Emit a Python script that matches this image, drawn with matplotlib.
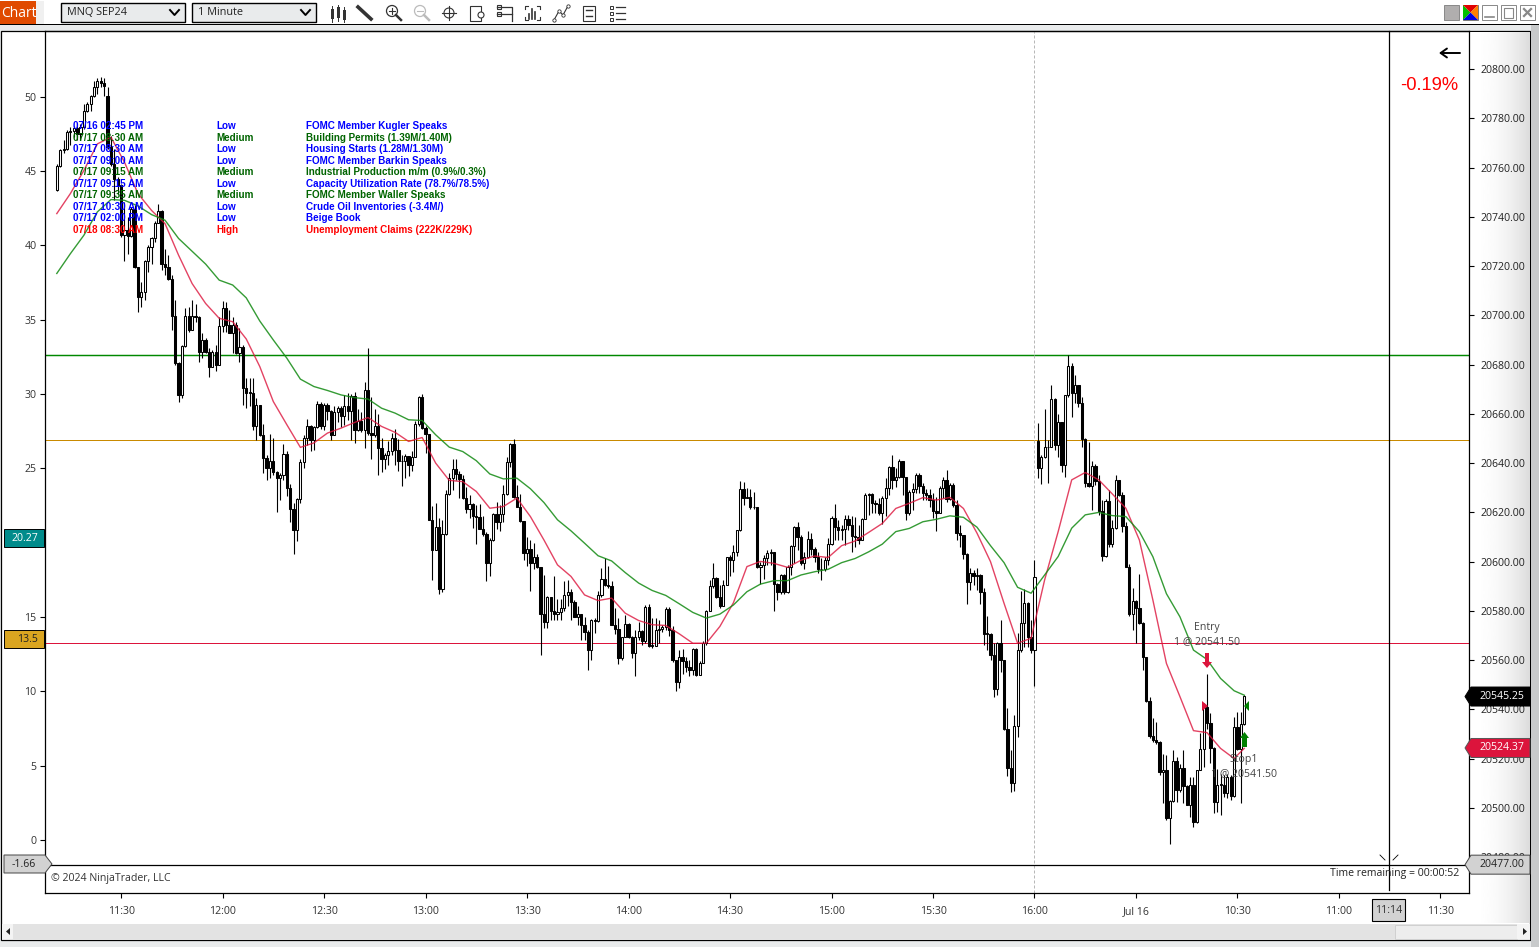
import numpy as np
import matplotlib
matplotlib.use("Agg")
import matplotlib.pyplot as plt
from matplotlib.patches import Rectangle, Polygon, Circle

W, H = 1539, 947
UI = "Open Sans"
ARIAL = "Liberation Sans"

first_open = {0: 20750.7, 15: 20789.0, 290: 20649.1}

closes = [
20760.6,20767.2,20767.5,20774.4,20775,20776,20773.7,20776.4,20783.1,20785.8,
20789.2,20792.6,20795.3,20794.3,20793,20768.3,20761.5,20755.5,20752.8,20732.5,
20734.5,20732.2,20743.3,20719.7,20707.5,20709.3,20722,20727.8,20731.4,20737.6,
20742.2,20721,20719.7,20714.7,20699.8,20680.5,20667.7,20687.7,20699.8,20694,
20699.8,20699.4,20685.3,20690,20685.3,20679.2,20685.3,20679.9,20695.8,20702.8,
20696,20693,20696,20684.6,20687.3,20670.4,20668.4,20668.4,20654.9,20663.7,
20651.5,20642,20638,20641,20636.3,20634,20635.3,20643.7,20630,20621.4,
20613,20625.5,20640.3,20650.2,20655.2,20649.5,20654.6,20664,20655.2,20663.7,
20661,20651.5,20660.6,20662.3,20659,20663.3,20661,20667.3,20653.5,20657,
20653.3,20669.7,20652.2,20651.5,20654.9,20646,20641.7,20643.4,20645,20650.2,
20645.2,20641,20640.9,20642.8,20639.4,20642.5,20656,20666.8,20654.2,20652,
20617,20604.7,20614,20589,20611.3,20627.6,20634,20637.5,20635.5,20633.5,
20625.8,20621.3,20623.5,20618.6,20618,20613.2,20611.3,20599.6,20608.6,20619.4,
20615.9,20619.4,20627.4,20640.6,20647.8,20626.4,20622,20616.7,20603.7,20605,
20599.6,20601.8,20597.8,20578.8,20575.7,20585.6,20579.8,20578.8,20579.4,20581,
20586.5,20587.5,20583.8,20577.7,20578.8,20574.4,20571.6,20564.2,20576.4,20576,
20586.5,20592.9,20590.6,20590,20574.4,20572.7,20560.8,20569.3,20574.8,20569.3,
20562.8,20569.6,20572,20567.6,20581.5,20565.8,20565.8,20572.3,20572.7,20573.3,
20580.8,20572.3,20559.9,20551.3,20561.5,20559.7,20557.4,20556,20564.5,20554,
20558.8,20566.9,20579.8,20590,20593.3,20585.8,20581.8,20590.5,20601.7,20600.6,
20604,20612.8,20629.7,20626,20626.2,20622.3,20622,20597.7,20598.6,20601.3,
20603.6,20604,20590.8,20587.8,20594.6,20587.8,20597.9,20606.3,20614.2,20610.1,
20599.6,20602,20609.4,20605,20601.7,20596.9,20596.9,20600.6,20607,20617.8,
20614.2,20612.8,20613.2,20617.2,20614.9,20610.4,20609.9,20608.8,20617.3,20627,
20627.4,20623.7,20623.4,20619.6,20626,20630,20638.5,20633.1,20634.5,20641,
20634.2,20619.6,20628.4,20629.7,20635.2,20630.7,20627.7,20627,20625,20620.7,
20619.9,20630.1,20633.1,20625.3,20631.1,20623,20611.5,20610.8,20603.3,20591.9,
20595.3,20594.2,20594.6,20587.5,20570.6,20570.6,20562.2,20548.2,20566.9,20560.1,
20532,20516.2,20510.3,20533.3,20564,20575,20583.4,20569.3,20564.2,20593.7,
20637.9,20642.4,20646.4,20646.4,20665.9,20647.4,20656.6,20639.3,20667.7,20679.4,
20668.6,20671.7,20664.6,20649.8,20631.8,20630.9,20638.9,20632.9,20620.7,20602.3,
20624.6,20607.2,20613.6,20633.2,20627.1,20614.5,20598,20578.7,20584.2,20581.1,
20575,20561.1,20543.6,20529.3,20527.6,20526.9,20514.7,20515.4,20495.8,20503,
20519,20507.5,20516.1,20508.9,20501.2,20509.3,20494.4,20515.4,20523.8,20541.1,
20534.6,20524.2,20502.5,20509.3,20509.3,20506.2,20512.7,20504.8,20532.7,20523.8,20534.1,20545.4]

highs = [
20761.5,20767.6,20771,20775.3,20776.4,20776.8,20776.8,20777.7,20785.8,20786.5,
20789.5,20795.3,20796.2,20796.6,20796.2,20792.6,20773,20767.6,20756,20753.4,
20746,20740,20744,20744.7,20719.7,20713.6,20722.4,20728.5,20731.8,20738.2,
20745.3,20742.6,20727,20724.4,20716.3,20706.2,20681.2,20688,20702.8,20703.5,
20706.2,20704.8,20699.8,20692.7,20690.7,20686.9,20686,20688,20699.4,20705.8,
20705.5,20702,20699.4,20697.4,20694.7,20688,20674.4,20674.5,20674.5,20666.4,
20663.7,20656,20643.4,20651.8,20650,20636.7,20636,20647.9,20644.8,20631.7,
20623.9,20625.9,20641.7,20651.5,20657.9,20655.6,20655.2,20665.3,20665,20664.4,
20664.6,20661.4,20663,20663,20663,20667.7,20668.4,20668,20668.7,20662,
20660.6,20672.9,20686.6,20667,20662,20660,20650.2,20644,20648.8,20652.2,
20653.8,20649.8,20643.4,20643.8,20642.8,20645,20657,20667.3,20668,20655,
20652,20622.5,20624,20617.8,20617,20629,20636,20641.6,20641.6,20637,
20635.3,20630.5,20627,20623.7,20623,20623.5,20618.6,20612.2,20609.5,20619.7,
20624.4,20623,20631,20642.4,20648,20649.7,20631,20627.5,20616.3,20610,
20608.8,20607.5,20603,20598,20594.6,20585.9,20585,20594,20584.8,20585,
20592,20592.6,20589,20584.5,20581.8,20578.4,20577.5,20572.3,20576.6,20577,
20587.9,20597.3,20601.4,20598.3,20592.3,20581,20577,20569.6,20578.4,20575.3,
20569.9,20572.3,20575.7,20572.3,20582.5,20582.9,20577,20577,20576.4,20574.4,
20581.4,20581.4,20573.7,20560,20564.2,20564.5,20561.5,20560,20564.9,20564.9,
20559.5,20567.6,20580.4,20592.6,20599.4,20593.6,20590.6,20592.5,20602,20602.7,
20606.7,20612.8,20632.7,20632.4,20630,20629.7,20628.4,20622,20600,20602.7,
20604.7,20605,20603.1,20591.2,20595,20595,20598.6,20606.7,20614.4,20616.2,
20610.8,20604,20612.4,20611.5,20605.8,20604,20601.3,20602,20609.8,20618.5,
20623.6,20616.9,20614.9,20619,20619,20618.5,20618.2,20614.9,20617.6,20627.7,
20628,20627.7,20625,20625.7,20626.6,20633.8,20638.8,20643.3,20637.9,20641.5,
20640.6,20628.8,20629,20632,20635.8,20635.8,20631.8,20629.3,20629.7,20627.7,
20626.4,20630.7,20634.5,20637.2,20631.8,20631.8,20625,20614.9,20611,20603.4,
20597.4,20596.7,20597.4,20594.9,20589.2,20578,20571.2,20566.9,20567.2,20576.4,
20560.1,20540.5,20523.6,20537.8,20571,20588,20588.8,20583.8,20576.4,20600.7,
20656.2,20643.3,20661.9,20649.4,20671.7,20666.3,20660,20656.9,20667.7,20683.9,
20680.8,20675.8,20671.7,20667,20650,20648.7,20641,20639.7,20635,20625,
20625.3,20629,20617,20635,20633.2,20628.4,20616.3,20599,20589.2,20584.5,
20595,20575.7,20560.8,20545,20536.4,20535,20527.3,20522,20521.5,20503.2,
20523.5,20520.8,20518,20523.5,20509.3,20512.7,20512.7,20515.4,20530.3,20542.5,
20554.6,20538.4,20524.9,20516,20514,20513.4,20514,20513.4,20537,20539,20539,20545.8]

lows = [
20750.3,20760.2,20766,20767,20769,20772.3,20771,20771,20775.7,20782.5,
20783,20788.5,20790,20792.6,20789.2,20767.6,20760.8,20746.7,20749.4,20731.8,
20722,20725,20731.8,20719.3,20701.5,20703.5,20706.2,20717.6,20721,20729.8,
20737.6,20718.3,20716.3,20714.3,20694,20679.9,20665,20666.4,20687.3,20693.4,
20694,20697.4,20681.2,20682.6,20684.6,20675.1,20679.2,20677.2,20684.6,20693.4,
20693.4,20692.7,20684.6,20684.2,20681.2,20663.7,20662.3,20663,20653.5,20649.5,
20651,20636,20633.3,20634,20635,20620,20625.2,20633.3,20626.5,20616,
20603,20608.3,20623.9,20638,20647.5,20644.8,20645.5,20654.2,20653.8,20653.5,
20657.6,20649.5,20651.5,20656.5,20654.6,20655.6,20657.6,20649.5,20648,20653,
20652.5,20646,20651.5,20641.8,20650.8,20635,20636.3,20637.6,20639.4,20643.4,
20639.4,20637,20630.6,20634,20634.6,20636.7,20642.8,20655.2,20653.8,20644,
20617,20592.5,20604.7,20586.7,20587.7,20611,20627,20629.2,20633.2,20625.8,
20625.4,20619.7,20617.6,20613.6,20607.2,20613.2,20610.5,20592.3,20594,20608.2,
20613.2,20612.6,20615.9,20627.1,20638.3,20625.8,20622,20616.3,20600.5,20598.3,
20587.9,20597,20597.4,20562,20573,20573,20576.4,20576.4,20576.4,20576.4,
20579.8,20581.8,20576.4,20577.4,20574.4,20568.3,20568,20556,20560,20571,
20575.7,20585.8,20590,20589.2,20574.4,20570.7,20558.5,20560,20569.3,20569,
20560.8,20553.6,20568.3,20566.2,20566.9,20565.5,20565,20566.2,20566.9,20571.6,
20572.3,20569.9,20559.2,20547.3,20548.6,20554.5,20555.4,20553.6,20554.1,20553.5,
20554,20558.8,20566.2,20579.8,20589.2,20585.2,20581.1,20582,20590.5,20594.2,
20595.9,20602.3,20612.6,20623,20625.7,20621.2,20621.2,20597.3,20590.9,20592.8,
20598.6,20598.6,20580,20584.4,20587,20587,20587.4,20594.6,20599.3,20604.7,
20598.6,20596.9,20601.3,20602.7,20600,20595.2,20592.5,20596.3,20598.6,20606.7,
20608.8,20608.8,20608.8,20606.7,20612.8,20604,20606,20607,20609.8,20617.6,
20618.9,20619.6,20619.6,20618.9,20615.3,20618.5,20627,20629.7,20630.4,20633.8,
20627,20616.9,20619,20621,20627.7,20627.7,20625,20625,20622.3,20617.6,
20612.6,20619.6,20625.7,20624.3,20625,20622.3,20608.8,20606,20601,20583,
20588.3,20590.6,20588.3,20583,20566,20564.2,20559.9,20545.2,20546,20555.4,
20531.7,20513,20506.3,20506.7,20528.8,20563.5,20565.5,20565.3,20562.8,20549.6,
20633.9,20631.6,20642,20632,20646.4,20645.3,20642.6,20636.2,20634.3,20666.7,
20658.9,20664.3,20662.9,20646.7,20630.2,20630.5,20621,20631.1,20619,20600.4,
20601.8,20606.1,20606.1,20613.1,20626.7,20612.2,20597.7,20578,20572.3,20566.9,
20574.8,20556,20543.2,20528.3,20526.9,20526,20513.4,20501.9,20495.1,20485.4,
20502.5,20502.5,20506.6,20502,20501.2,20496.4,20492.1,20494,20516.2,20516.7,
20532,20518.4,20497.8,20498.5,20497,20504.6,20503.9,20503.2,20504.6,20523.5,20502.1,20533.7]

# moving averages, read every fourth bar plus the last one
ma_bars = list(range(0, 349, 4)) + [351]
ma_fast = [
20741.3,20749.4,20758.8,20769.6,20772.3,20762.2,20749.4,20742.6,20737.2,20724.4,
20712.9,20704.8,20698.8,20697.4,20690.4,20679.2,20665,20655.6,20646.4,20648.2,
20652.2,20654.2,20656.5,20658.5,20654.9,20652.5,20648.8,20650.4,20640,20633,
20632.5,20628.5,20621.7,20622.4,20625.8,20618.3,20608.8,20598.7,20594,20586.5,
20584.2,20585.2,20579.1,20576.1,20574.4,20574.1,20570.7,20566.9,20566.9,20573.7,
20583.3,20598,20600.1,20599.3,20597.7,20600.6,20602.3,20601.7,20606.5,20608.4,
20611.9,20615.5,20621.6,20623.7,20626,20625,20626.1,20621.6,20611.6,20600,
20583.1,20566.9,20568.9,20592.6,20612.2,20633.2,20636.2,20633.2,20627.5,20621.7,
20608.8,20584.4,20558.7,20545.2,20531.4,20530.6,20524.2,20520.1,20524.2]
ma_slow = [
20717,20725,20732.5,20742,20747,20746.7,20744.4,20740.9,20738.6,20731.2,
20726,20720.8,20714.3,20712.3,20707.1,20697.7,20690,20682.6,20674.1,20671.1,
20669.5,20667.7,20666.6,20666,20662.3,20660.3,20657.6,20657.3,20651.5,20646.5,
20644.7,20641,20635.6,20633.6,20633.9,20629.6,20624,20617,20612.5,20607.5,
20602.4,20600.3,20595.6,20591.3,20588.3,20586.3,20582.9,20579.4,20577.1,20578.7,
20582.4,20587.8,20590.9,20592.3,20592.3,20594.6,20595.9,20596.9,20599.6,20601.3,
20604,20607.1,20612.2,20613.5,20616.2,20617.2,20618.6,20618,20614,20606.5,
20599.6,20589.6,20587.2,20594.6,20602.1,20613.6,20619,20620,20618.7,20618.3,
20612.2,20602,20587,20577.6,20564.1,20560.3,20552.6,20547.6,20545.8]

levels = [20684.1, 20649.2, 20566.8]
level_colors = ["#008800", "#C98A00", "#DC143C"]
level_widths = [1.05, 0.72, 0.72]

time_ticks = list(range(19, 410, 30))
time_labels = ["11:30","12:00","12:30","13:00","13:30","14:00","14:30","15:00","15:30",
               "16:00","Jul 16","10:30","11:00","11:30"]
session_bar = 289
cursor_bar = 393.7
price_ticks = list(range(20480, 20801, 20))
left_ticks = list(range(0, 51, 5))

news_time = ["07/16 02:45 PM","07/17 08:30 AM","07/17 08:30 AM","07/17 09:00 AM","07/17 09:15 AM",
             "07/17 09:15 AM","07/17 09:35 AM","07/17 10:30 AM","07/17 02:00 PM","07/18 08:30 AM"]
news_impact = ["Low","Medium","Low","Low","Medium","Low","Medium","Low","Low","High"]
news_title = ["FOMC Member Kugler Speaks","Building Permits (1.39M/1.40M)","Housing Starts (1.28M/1.30M)",
              "FOMC Member Barkin Speaks","Industrial Production m/m (0.9%/0.3%)",
              "Capacity Utilization Rate (78.7%/78.5%)","FOMC Member Waller Speaks",
              "Crude Oil Inventories (-3.4M/)","Beige Book","Unemployment Claims (222K/229K)"]
impact_color = {"Low": "#0000FF", "Medium": "#006400", "High": "#FF0000"}

last_price = 20545.25
fast_value = 20524.37
low_price = 20477.00

# ---------------------------------------------------------------- figure
fig = plt.figure(figsize=(W / 100, H / 100), dpi=100, facecolor="#E9EBEC")


def axes_px(x0, y0, x1, y1, **kw):
    return fig.add_axes([x0 / W, 1 - y1 / H, (x1 - x0) / W, (y1 - y0) / H], **kw)


bg = axes_px(0, 0, W, H, zorder=0)
bg.set_xlim(0, W); bg.set_ylim(H, 0); bg.axis("off")

# window chrome
bg.add_patch(Rectangle((0, 0), W, 24, fc="white", ec="none"))
bg.add_patch(Rectangle((0, 24), W, 1.2, fc="black", ec="none"))
bg.add_patch(Rectangle((1, 31), 1529, 909, fc="white", ec="black", lw=0.9))
bg.add_patch(Rectangle((1530.5, 25), 9, 922, fc="#C8CACB", ec="none"))
bg.add_patch(Rectangle((2, 924), 1528, 15.5, fc="#E3E3E3", ec="none"))
bg.add_patch(Rectangle((1395, 925), 122, 14, fc="#EDEDED", ec="#D0D0D0", lw=0.7))
bg.add_patch(Rectangle((2, 924), 11, 15, fc="#F4F4F4", ec="none"))
bg.add_patch(Rectangle((1517, 924), 13, 15, fc="#F4F4F4", ec="none"))
bg.add_patch(Polygon([(10, 928), (10, 935), (6, 931.5)], fc="#222222", ec="none"))
bg.add_patch(Polygon([(1523, 928), (1523, 935), (1527, 931.5)], fc="#222222", ec="none"))
grad = np.linspace(0, 1, 256)[None, :] ** 2.2
bg.imshow(1 - 0.14 * grad, extent=(1470, 1530, 923, 32), cmap="gray", vmin=0, vmax=1, aspect="auto", zorder=1)
bg.set_xlim(0, W); bg.set_ylim(H, 0)

# toolbar
bg.add_patch(Rectangle((36, 1), 8, 23, fc="#F0F0F0", ec="none"))
bg.add_patch(Rectangle((0, 1), 36, 23, fc="#E04A00", ec="none"))
bg.text(1, 13, "Chart", color="white", fontsize=10, family=UI, va="center", ha="left")
for x0, x1, s in [(61, 185, "MNQ SEP24"), (192, 316, "1 Minute")]:
    bg.add_patch(Rectangle((x0, 3), x1 - x0, 18.5, fc="#E9EBEC", ec="black", lw=1))
    bg.text(x0 + 6, 12.5, s, fontsize=7.8, family=UI, color="#222222", va="center")
    bg.plot([x1 - 15, x1 - 10.5, x1 - 6], [10, 15, 10], color="black", lw=1.4)

ic = "#333333"
for x, top, bot, t0, t1 in [(332, 9, 19, 6, 22), (338, 7, 18, 5, 21), (344, 10, 20, 7, 22)]:
    bg.plot([x, x], [t0, t1], color=ic, lw=0.7)
    bg.add_patch(Rectangle((x - 1.5, top), 3, bot - top, fc=ic, ec="none"))
bg.plot([358, 371], [7, 19], color=ic, lw=2.6)
for cx, col, plus in [(392, ic, True), (420, "#BBBBBB", False)]:
    bg.add_patch(Circle((cx, 11), 5.5, fc="none", ec=col, lw=0.9))
    bg.plot([cx + 4, cx + 9], [15, 20], color=col, lw=1.8)
    bg.plot([cx - 3, cx + 3], [11, 11], color=col, lw=0.8)
    if plus:
        bg.plot([cx, cx], [8, 14], color=col, lw=0.8)
bg.add_patch(Circle((449, 13), 5, fc="none", ec=ic, lw=0.8))
bg.plot([442, 456], [13, 13], color=ic, lw=0.8)
bg.plot([449, 449], [6, 20], color=ic, lw=0.8)
bg.add_patch(Rectangle((470, 6), 11, 15, fc="white", ec=ic, lw=0.8))
bg.add_patch(Circle((481, 15), 3, fc="white", ec=ic, lw=0.8))
bg.plot([497, 512, 512], [7, 7, 21], color=ic, lw=0.9)
bg.add_patch(Rectangle((497, 5), 4, 4, fc="white", ec=ic, lw=0.8))
bg.plot([497, 512], [14, 14], color=ic, lw=0.9)
bg.add_patch(Rectangle((497, 12), 4, 4, fc="white", ec=ic, lw=0.8))
bg.plot([525, 525, 528], [9, 6, 6], color=ic, lw=0.8)
bg.plot([525, 525, 528], [17, 20, 20], color=ic, lw=0.8)
bg.plot([540, 540, 537], [9, 6, 6], color=ic, lw=0.8)
bg.plot([540, 540, 537], [17, 20, 20], color=ic, lw=0.8)
for x, t in [(529, 14), (532, 9), (535, 12)]:
    bg.plot([x, x], [t, 19], color=ic, lw=1.2)
bg.plot([554, 559, 563, 568], [20, 11, 15, 6], color=ic, lw=0.8, marker="o", ms=2.4, mfc="white", mew=0.6)
bg.add_patch(Rectangle((583, 6), 12, 15, fc="white", ec=ic, lw=0.8))
bg.plot([586, 592], [10, 10], color=ic, lw=1.0)
bg.plot([586, 592], [16, 16], color=ic, lw=1.0)
for y in (7, 13, 19):
    bg.add_patch(Rectangle((610, y - 1.5), 3, 3, fc="white", ec=ic, lw=0.7))
    bg.plot([616, 625], [y, y], color=ic, lw=0.9)

# window buttons
bg.add_patch(Rectangle((1444, 5), 15, 15, fc="#B0AEAE", ec="#888888", lw=0.7))
bg.add_patch(Rectangle((1463, 5), 15, 15, fc="white", ec="#777777", lw=0.7))
bg.add_patch(Polygon([(1463, 5), (1470.5, 12.5), (1463, 20)], fc="#00C000", ec="none"))
bg.add_patch(Polygon([(1463, 5), (1470.5, 12.5), (1478, 5)], fc="#E00000", ec="none"))
bg.add_patch(Polygon([(1478, 5), (1470.5, 12.5), (1478, 20)], fc="#FF8000", ec="none"))
bg.add_patch(Polygon([(1463, 20), (1470.5, 12.5), (1478, 20)], fc="#0000E0", ec="none"))
for x0 in (1482, 1501, 1520):
    bg.add_patch(Rectangle((x0, 5), 15, 15, fc="white", ec="#888888", lw=0.7))
bg.plot([1485, 1494], [17, 17], color="#888888", lw=1.2)
bg.add_patch(Rectangle((1504, 7.5), 9, 10, fc="none", ec="#888888", lw=0.8))
bg.plot([1524, 1531], [9, 16], color="#888888", lw=1.6)
bg.plot([1531, 1524], [9, 16], color="#888888", lw=1.6)

# ---------------------------------------------------------------- chart panes
ax = axes_px(45, 31, 1469, 893, zorder=2)
ax.patch.set_alpha(0)
BAR_X0, BAR_DX = 56.8, 3.383
ax.set_xlim((45 - BAR_X0) / BAR_DX, (1469 - BAR_X0) / BAR_DX)
PX_PER_PT = 739 / 300
ax.set_ylim(20500 + (808 - 893) / PX_PER_PT, 20500 + (808 - 31) / PX_PER_PT)


def price_px(p):
    return 808 - (p - 20500) * PX_PER_PT


idx = np.arange(len(closes))
c = np.array(closes)
o = np.r_[c[0], c[:-1]]
for k, v in first_open.items():
    o[k] = v
up = c >= o

for p, col, lw in zip(levels, level_colors, level_widths):
    ax.axhline(p, color=col, lw=lw, zorder=1)
ax.axvline(session_bar, color="#B8B8B8", lw=0.72, ls=(0, (3, 2)), zorder=1)

ax.vlines(idx, lows, highs, color="black", lw=0.8, zorder=3)
ax.bar(idx[up], np.maximum(c[up] - o[up], 0.3), bottom=o[up], width=0.62, color="white",
       edgecolor="black", linewidth=0.75, zorder=4)
ax.bar(idx[~up], o[~up] - c[~up], bottom=c[~up], width=0.7, color="black",
       edgecolor="black", linewidth=0.75, zorder=4)
ax.plot(ma_bars, ma_fast, color="#DC143C", lw=1.0, alpha=0.8, zorder=5)
ax.plot(ma_bars, ma_slow, color="#128A12", lw=1.0, alpha=0.85, zorder=5)
for s in ax.spines.values():
    s.set_linewidth(0.9)

ax2 = ax.twinx()
ax2.set_zorder(2)
ax2.patch.set_alpha(0)
ax2.set_ylim((840 - 893) / 14.87, (840 - 31) / 14.87)
ax2.yaxis.tick_left()
ax2.set_yticks(left_ticks)
ax2.set_yticklabels([str(v) for v in left_ticks], fontsize=7.6, family=UI, color="#333333")
ax2.tick_params(axis="y", length=3.6, width=0.8, pad=2.5, color="black")
for s in ax2.spines.values():
    s.set_visible(False)

ax.yaxis.tick_right()
ax.set_yticks(price_ticks)
ax.set_yticklabels([f"{p:.2f}" for p in price_ticks], fontsize=7.6, family=UI, color="#222222")
ax.tick_params(axis="y", length=3.6, width=0.8, pad=5, color="black")
ax.set_xticks(time_ticks)
ax.set_xticklabels(time_labels, fontsize=7.6, family=UI, color="#333333")
ax.tick_params(axis="x", length=3.6, width=0.8, pad=6, color="black")

# ---------------------------------------------------------------- overlay
ov = axes_px(0, 0, W, H, zorder=5)
ov.set_xlim(0, W); ov.set_ylim(H, 0); ov.axis("off"); ov.patch.set_alpha(0)

ov.plot([45, 1469], [864.5, 864.5], color="black", lw=0.9)
ov.plot([1389, 1389], [31, 890], color="black", lw=0.9)
ov.plot([1380, 1385], [855, 860], color="black", lw=0.6)
ov.plot([1398, 1393], [855, 860], color="black", lw=0.6)

news_rows = [126, 138, 149, 161, 172, 184, 195, 207, 218, 230]
for y, t, imp, title in zip(news_rows, news_time, news_impact, news_title):
    col = impact_color[imp]
    for x, s in ((73, t), (216, imp), (306, title)):
        ov.text(x, y, s, color=col, fontsize=7.1, family=ARIAL, fontweight="bold", va="center", ha="left", zorder=6)

ov.text(51, 878, "\u00a9 2024 NinjaTrader, LLC", fontsize=7.6, family=UI, color="#333333", va="center")
ov.text(1459, 873, "Time remaining = 00:00:52", fontsize=7.6, family=UI, color="#222222", va="center", ha="right")
ov.text(1458, 85, "-0.19%", fontsize=13.2, family=ARIAL, color="#FF0000", va="center", ha="right")
ov.annotate("", xy=(1439, 53), xytext=(1460, 53),
            arrowprops=dict(arrowstyle="->,head_length=0.45,head_width=0.32", lw=1.4, color="black", shrinkA=0, shrinkB=0))

ov.text(1207, 627.5, "Entry", fontsize=7.6, family=UI, color="#444444", va="center", ha="center")
ov.text(1207, 641.5, "1 @ 20541.50", fontsize=7.6, family=UI, color="#444444", va="center", ha="center")
ov.text(1244, 759.5, "Stop1", fontsize=7.6, family=UI, color="#444444", va="center", ha="center")
ov.text(1244, 773.5, "1 @ 20541.50", fontsize=7.6, family=UI, color="#444444", va="center", ha="center")

CRIM, GRN = "#DC143C", "#008000"
ov.add_patch(Polygon([(1205, 653), (1209, 653), (1209, 662), (1212, 662), (1207, 668), (1202, 662), (1205, 662)], fc=CRIM, ec="none"))
ov.add_patch(Polygon([(1202, 701), (1208, 706), (1202, 711)], fc=CRIM, ec="none"))
ov.add_patch(Polygon([(1249, 701), (1244, 706), (1249, 711)], fc=GRN, ec="none"))
ov.add_patch(Polygon([(1242, 747), (1247, 747), (1247, 738), (1249, 738), (1244.5, 732), (1240, 738), (1242, 738)], fc=GRN, ec="none"))


def price_flag(p, fc, tc, s, ec="black"):
    y = price_px(p)
    ov.add_patch(Polygon([(1465, y), (1471, y - 9.5), (1530, y - 9.5), (1530, y + 9.5), (1471, y + 9.5)],
                         fc=fc, ec=ec, lw=0.7, zorder=7))
    ov.text(1502, y, s, color=tc, fontsize=7.6, family=UI, va="center", ha="center", zorder=8)


price_flag(last_price, "black", "white", f"{last_price:.2f}")
price_flag(fast_value, CRIM, "white", f"{fast_value:.2f}", ec="#555555")
price_flag(low_price, "#D2D2D2", "#222222", f"{low_price:.2f}", ec="#444444")

ov.add_patch(Rectangle((4, 529), 40, 18, fc="#008B8B", ec="black", lw=0.7, zorder=7))
ov.text(25, 538.5, "20.27", color="white", fontsize=7.6, family=UI, va="center", ha="center", zorder=8)
ov.add_patch(Rectangle((4, 630), 40, 18, fc="#DAA520", ec="black", lw=0.7, zorder=7))
ov.text(27, 639.5, "13.5", color="#222222", fontsize=7.6, family=UI, va="center", ha="center", zorder=8)
ov.add_patch(Polygon([(4, 855), (45, 855), (52, 864), (45, 873), (4, 873)], fc="#D2D2D2", ec="#444444", lw=0.7, zorder=7))
ov.text(24, 864, "-1.66", color="#222222", fontsize=7.6, family=UI, va="center", ha="center", zorder=8)
cursor_x = BAR_X0 + cursor_bar * BAR_DX
ov.add_patch(Rectangle((cursor_x - 17, 899), 33, 22, fc="#D2D2D2", ec="black", lw=0.8, zorder=7))
ov.text(cursor_x - 0.5, 910.5, "11:14", color="#333333", fontsize=7.6, family=UI, va="center", ha="center", zorder=8)

fig.savefig("out.png", dpi=100, facecolor=fig.get_facecolor())
